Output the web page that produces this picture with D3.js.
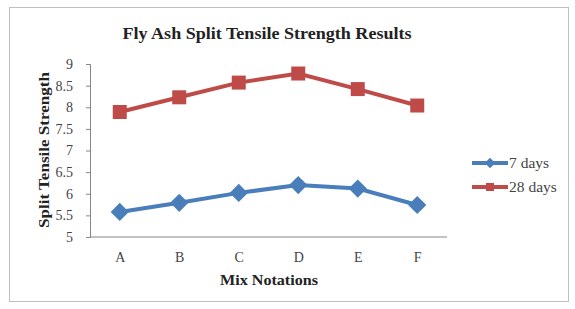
<!DOCTYPE html>
<html>
<head>
<meta charset="utf-8">
<script src="https://cdn.jsdelivr.net/npm/d3@7"></script>
<style>
  body { margin: 0; background: #fff; }
  svg { display: block; font-family: "Liberation Serif", "Times New Roman", serif; }
</style>
</head>
<body>
<svg id="chart" width="575" height="309"></svg>
<script>
// data
const categories = ["A", "B", "C", "D", "E", "F"];
const days7 = [5.58, 5.79, 6.02, 6.2, 6.12, 5.74];
const days28 = [7.89, 8.23, 8.57, 8.78, 8.42, 8.04];
const yTicks = [5, 5.5, 6, 6.5, 7, 7.5, 8, 8.5, 9];

const series = [
    { name: "7 days", values: days7, color: "#4a7ebb", marker: "diamond" },
    { name: "28 days", values: days28, color: "#be4b48", marker: "square" }
];

const svg = d3.select("#chart");

// outer frame
svg.append("rect")
    .attr("x", 9.5).attr("y", 7.5)
    .attr("width", 559).attr("height", 294)
    .attr("fill", "#fff")
    .attr("stroke", "#bfbfbf");

const plotLeft = 90, plotRight = 447, plotTop = 64, plotBottom = 237;

let x = d3.scalePoint()
    .domain(categories)
    .range([plotLeft, plotRight])
    .padding(0.5);

let y = d3.scaleLinear()
    .domain([5, 9])
    .range([plotBottom, plotTop]);

// axes
let axisY = svg.append("g")
    .attr("transform", `translate(${plotLeft},0)`)
    .call(d3.axisLeft(y).tickValues(yTicks).tickSize(4).tickFormat(d3.format("")));
axisY.select(".domain").attr("stroke", "#868686");
axisY.selectAll(".tick line").attr("stroke", "#868686");
axisY.selectAll("text")
    .attr("font-size", 14).attr("fill", "#444")
    .attr("font-family", "Liberation Serif")
    .attr("x", -17);

let axisX = svg.append("g")
    .attr("transform", `translate(0,${plotBottom})`)
    .call(d3.axisBottom(x).tickSize(0));
axisX.select(".domain").attr("stroke", "#868686").attr("d", `M${plotLeft},0H${plotRight}`);
axisX.selectAll("text")
    .attr("font-size", 14).attr("fill", "#444")
    .attr("font-family", "Liberation Serif")
    .attr("dy", "1.55em");

// titles
svg.append("text")
    .attr("x", 267).attr("y", 39)
    .attr("text-anchor", "middle")
    .attr("font-size", 17.5).attr("font-weight", "bold").attr("fill", "#222")
    .attr("textLength", 289).attr("lengthAdjust", "spacingAndGlyphs")
    .text("Fly Ash Split Tensile Strength Results");

svg.append("text")
    .attr("x", 269).attr("y", 285)
    .attr("text-anchor", "middle")
    .attr("font-size", 15).attr("font-weight", "bold").attr("fill", "#222")
    .attr("textLength", 98).attr("lengthAdjust", "spacingAndGlyphs")
    .text("Mix Notations");

svg.append("text")
    .attr("transform", `translate(49,150) rotate(-90)`)
    .attr("text-anchor", "middle")
    .attr("font-size", 15).attr("font-weight", "bold").attr("fill", "#222")
    .attr("textLength", 156).attr("lengthAdjust", "spacingAndGlyphs")
    .text("Split Tensile Strength");

// markers
let drawMarker = (g, type, cx, cy, color, size) => {
    if (type === "square") {
        g.append("rect")
            .attr("x", cx - size / 2).attr("y", cy - size / 2)
            .attr("width", size).attr("height", size)
            .attr("fill", color);
    } else {
        let s = size * 0.65;
        g.append("path")
            .attr("d", `M${cx},${cy - s}L${cx + s},${cy}L${cx},${cy + s}L${cx - s},${cy}Z`)
            .attr("fill", color);
    }
}

let line = d3.line()
    .x((d, i) => x(categories[i]))
    .y(d => y(d));

series.forEach(s => {
    svg.append("path")
        .datum(s.values)
        .attr("d", line)
        .attr("fill", "none")
        .attr("stroke", s.color)
        .attr("stroke-width", 4);
    let g = svg.append("g");
    s.values.forEach((v, i) => {
        drawMarker(g, s.marker, x(categories[i]), y(v), s.color, 14);
    });
});

// legend
series.forEach((s, i) => {
    let ly = 163 + i * 24;
    svg.append("line")
        .attr("x1", 472).attr("x2", 508)
        .attr("y1", ly).attr("y2", ly)
        .attr("stroke", s.color).attr("stroke-width", 4);
    drawMarker(svg, s.marker, 490, ly, s.color, 8);
    svg.append("text")
        .attr("x", 509).attr("y", ly + 5)
        .attr("font-size", 15.5).attr("fill", "#444")
        .text(s.name);
});
</script>
</body>
</html>
